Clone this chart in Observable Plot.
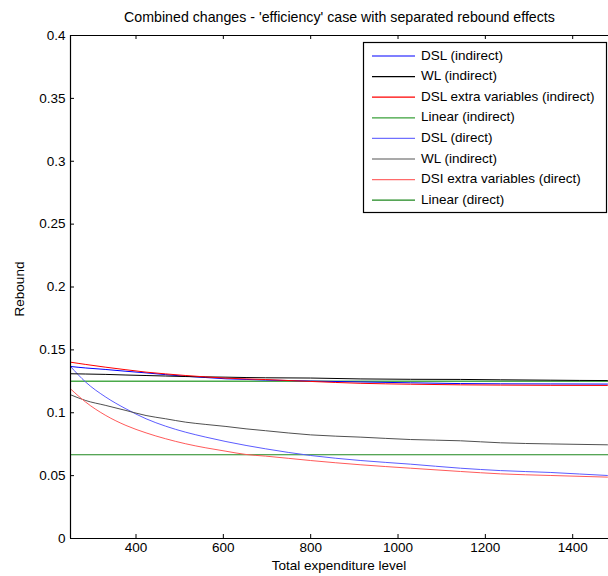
<!DOCTYPE html>
<html><head><meta charset="utf-8">
<script src="https://cdn.jsdelivr.net/npm/d3@7"></script>
<script src="https://cdn.jsdelivr.net/npm/@observablehq/plot@0.6"></script>
<style>body{margin:0;background:#fff} #chart svg{display:block}</style>
</head><body><div id="chart"></div>
<script>
const titleText = "Combined changes - 'efficiency' case with separated rebound effects";
const xLabel = "Total expenditure level";
const yLabel = "Rebound";
const xTicks = [400, 600, 800, 1000, 1200, 1400];
const yTicks = [0, 0.05, 0.1, 0.15, 0.2, 0.25, 0.3, 0.35, 0.4];

const expenditure = [250, 285, 331, 377, 423, 468, 514, 560, 606, 652, 697, 800, 915, 1029, 1143, 1235, 1350, 1480, 1500];
const dslIndirect  = [.1368, .1356, .1344, .1330, .1317, .1303, .1290, .1280, .1270, .1265, .1260, .1252, .1245, .1238, .1232, .1230, .1229, .1228, .1228];
const wlIndirect   = [.1310, .1308, .1305, .1300, .1296, .1292, .1288, .1285, .1283, .1280, .1278, .1276, .1269, .1266, .1265, .1262, .1259, .1256, .1256];
const dslxIndirect = [.1402, .1384, .1362, .1342, .1323, .1309, .1296, .1285, .1275, .1269, .1264, .1249, .1234, .1227, .1222, .1220, .1218, .1217, .1217];
const linearIndirect = 0.1251;
const dslDirect    = [.1368, .1243, .1124, .1031, .0952, .0893, .0845, .0806, .0771, .0740, .0713, .0660, .0620, .0591, .0559, .0540, .0525, .0501, .0498];
const wlDirect     = [.1143, .1097, .1058, .1018, .0978, .0952, .0925, .0907, .0891, .0872, .0857, .0824, .0806, .0787, .0777, .0761, .0752, .0745, .0744];
const dslxDirect   = [.1190, .1084, .0978, .0899, .0840, .0793, .0753, .0721, .0694, .0668, .0655, .0620, .0586, .0559, .0533, .0514, .0501, .0488, .0486];
const linearDirect = 0.0666;

const curveSeries = [
  {name: "DSL (direct)", values: dslDirect, color: "#5c5cff", width: 1},
  {name: "WL (direct)", values: wlDirect, color: "#505050", width: 1},
  {name: "DSI extra variables (direct)", values: dslxDirect, color: "#ff5a5a", width: 1},
  {name: "DSL (indirect)", values: dslIndirect, color: "#0000ff", width: 1},
  {name: "WL (indirect)", values: wlIndirect, color: "#000000", width: 1},
  {name: "DSL extra variables (indirect)", values: dslxIndirect, color: "#ff0000", width: 1}
];
const flatSeries = [
  {name: "Linear (indirect)", value: linearIndirect, color: "#4aaa4a", width: 1.6},
  {name: "Linear (direct)", value: linearDirect, color: "#1e871e", width: 1}
];
const legendEntries = [
  {label: "DSL (indirect)", color: "#0000ff"},
  {label: "WL (indirect)", color: "#000000"},
  {label: "DSL extra variables (indirect)", color: "#ff0000"},
  {label: "Linear (indirect)", color: "#3aa03a"},
  {label: "DSL (direct)", color: "#7070ff"},
  {label: "WL (indirect)", color: "#555555"},
  {label: "DSI extra variables (direct)", color: "#ff6a6a"},
  {label: "Linear (direct)", color: "#1e871e"}
];

const rows = curveSeries.flatMap(s => expenditure.map((x, i) => ({series: s.name, x, y: s.values[i]})));

const W = 608, H = 576, mL = 70, mR = 0, mT = 35, mB = 38, tick = 4;
const frameW = W - mL - mR, frameH = H - mT - mB;
const font = "Liberation Sans, Arial, Helvetica, sans-serif";
const fs = 13.5;
const chart = Plot.plot({
  width: W, height: H,
  marginLeft: mL, marginRight: mR, marginTop: mT, marginBottom: mB,
  style: {fontFamily: font, fontSize: fs + "px", color: "black", background: "white", overflow: "hidden"},
  x: {domain: [250, 1482], ticks: xTicks, label: null},
  y: {domain: [0, 0.4], ticks: yTicks, label: null},
  marks: [
    ...flatSeries.map(s => Plot.ruleY([s.value], {stroke: s.color, strokeWidth: s.width})),
    ...curveSeries.map(s => Plot.line(rows.filter(r => r.series === s.name), {x: "x", y: "y", stroke: s.color, strokeWidth: s.width, curve: "monotone-x", clip: true})),
    Plot.ruleY([0, 0.4], {stroke: "black", strokeWidth: 1.2}),
    Plot.ruleX([250], {stroke: "black", strokeWidth: 1.2}),
    Plot.ruleX(xTicks, {x: d => d, insetTop: frameH - tick, stroke: "black", strokeWidth: 1}),
    Plot.ruleX(xTicks, {x: d => d, insetBottom: frameH - tick, stroke: "black", strokeWidth: 1}),
    Plot.ruleY(yTicks, {y: d => d, insetRight: frameW - tick, stroke: "black", strokeWidth: 1}),
    Plot.axisX(xTicks, {anchor: "bottom", tickSize: 0, tickPadding: 4, tickFormat: d => String(d), label: null}),
    Plot.axisY(yTicks, {anchor: "left", tickSize: 0, tickPadding: 5, tickFormat: d => String(+d.toFixed(2)), label: null})
  ]
});
document.getElementById("chart").appendChild(chart);

const svg = d3.select(chart);
svg.append("text").attr("x", 339.5).attr("y", 18.5).attr("text-anchor", "middle").attr("dominant-baseline", "middle")
  .attr("font-family", font).attr("font-size", 14.2).attr("fill", "black").text(titleText);
svg.append("text").attr("x", 339).attr("y", 566).attr("text-anchor", "middle").attr("dominant-baseline", "middle")
  .attr("font-family", font).attr("font-size", fs).attr("fill", "black").text(xLabel);
svg.append("text").attr("transform", "translate(20,289) rotate(-90)").attr("text-anchor", "middle").attr("dominant-baseline", "middle")
  .attr("font-family", font).attr("font-size", fs).attr("fill", "black").text(yLabel);

const lg = svg.append("g");
lg.append("rect").attr("x", 363.5).attr("y", 42.5).attr("width", 243).attr("height", 170)
  .attr("fill", "white").attr("stroke", "black").attr("stroke-width", 1.2);
legendEntries.forEach((e, i) => {
  const y = 56 + i * 20.6;
  lg.append("line").attr("x1", 372).attr("x2", 415).attr("y1", y).attr("y2", y).attr("stroke", e.color).attr("stroke-width", 1.2);
  lg.append("text").attr("x", 421).attr("y", y).attr("text-anchor", "start").attr("dominant-baseline", "middle")
    .attr("font-family", font).attr("font-size", fs).attr("fill", "black").text(e.label);
});
</script></body></html>
